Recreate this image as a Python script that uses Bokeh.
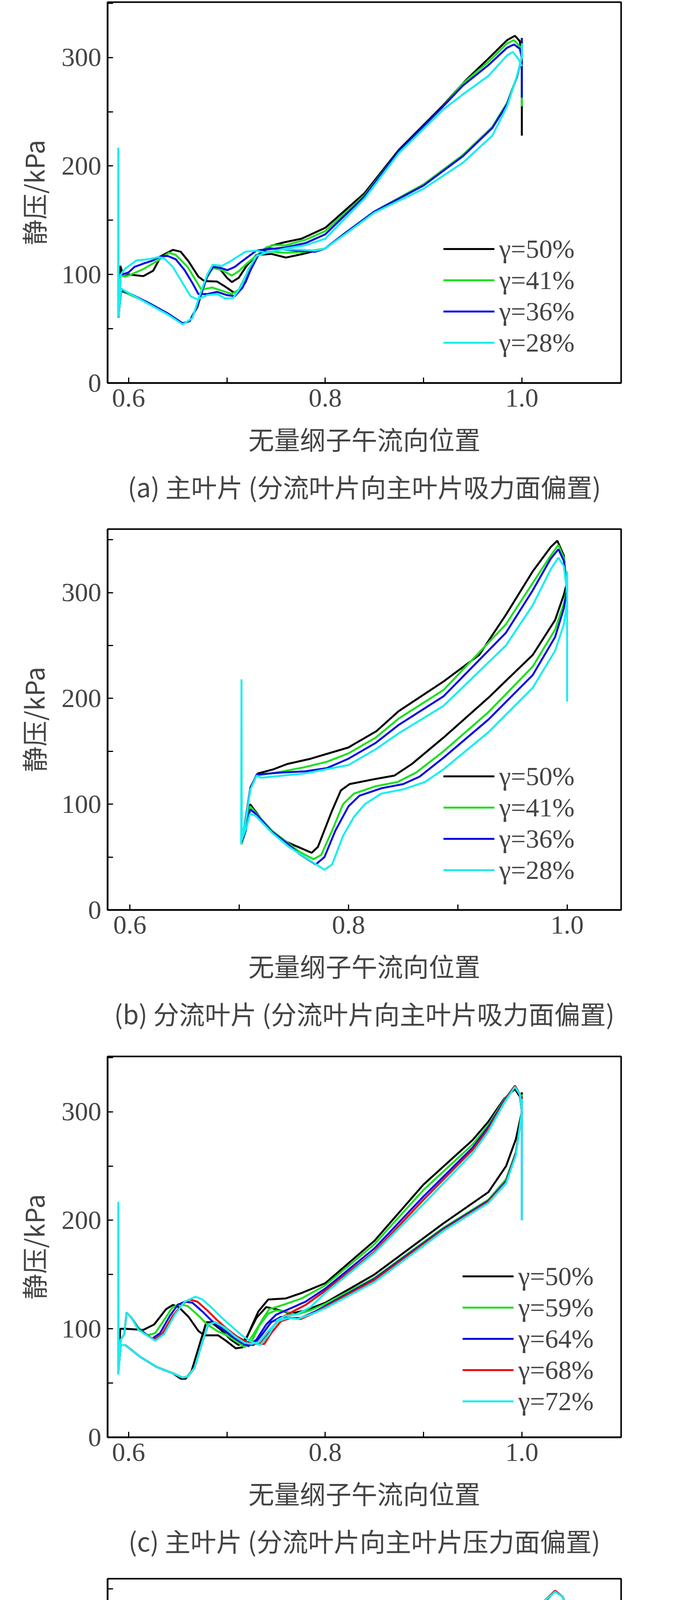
from bokeh.plotting import figure
from bokeh.layouts import column
from bokeh.models import FixedTicker, Legend, LegendItem
from bokeh.embed import file_html
from bokeh.resources import INLINE

XLABEL = "无量纲子午流向位置"
YLABEL = "静压/kPa"
CAPTIONS = ["(a) 主叶片 (分流叶片向主叶片吸力面偏置)",
            "(b) 分流叶片 (分流叶片向主叶片吸力面偏置)",
            "(c) 主叶片 (分流叶片向主叶片压力面偏置)",
            "(d) 分流叶片 (分流叶片向主叶片压力面偏置)"]
LABELS_SS = ["γ=50%", "γ=41%", "γ=36%", "γ=28%"]
LABELS_PS = ["γ=50%", "γ=59%", "γ=64%", "γ=68%", "γ=72%"]
X_TICKS = [0.6, 0.7, 0.8, 0.9, 1.0]
X_TICK_LABELS = {0.6: "0.6", 0.7: "", 0.8: "0.8", 0.9: "", 1.0: "1.0"}
Y_TICKS = [0, 50, 100, 150, 200, 250, 300, 350]
Y_TICK_LABELS = {0: "0", 50: "", 100: "100", 150: "", 200: "200", 250: "", 300: "300", 350: ""}

# ---------------- panel (a) ----------------
A50_1 = [(0.5895,60),(0.5915,108),(0.595,98),(0.6,100),(0.615,98.5),(0.625,103.5),(0.633,117),(0.645,122.7),(0.653,121),(0.661,112),(0.671,98),(0.677,94),(0.69,93.5),(0.698,89),(0.706,84),(0.711,83),(0.719,93),(0.728,113),(0.735,121),(0.745,126.5),(0.758,129.6),(0.776,133),(0.8,143),(0.84,175),(0.875,215),(0.92,256),(0.943,279),(0.966,299),(0.985,316),(0.993,320),(0.998,315),(1.0,300)]
A50_2 = [(0.5895,60),(0.5925,85),(0.6,82),(0.62,74),(0.64,64),(0.655,55),(0.662,57),(0.67,70),(0.675,85),(0.68,98),(0.686,107),(0.692,106),(0.7,97),(0.705,93),(0.712,97),(0.72,108),(0.73,118),(0.745,119),(0.76,115.6),(0.776,118.7),(0.8,124),(0.82,138),(0.85,158),(0.9,183),(0.94,210),(0.97,236),(0.985,258),(0.995,282),(1.0,300),(1.0,318),(1.0,228)]
A41_1 = [(0.5895,62),(0.592,100),(0.596,98),(0.6,99),(0.615,105),(0.63,113),(0.641,120),(0.648,118),(0.66,107),(0.668,95),(0.674,86),(0.685,88),(0.695,85),(0.705,82),(0.712,86),(0.722,104),(0.73,117),(0.74,125),(0.748,127),(0.76,127),(0.78,132),(0.8,140),(0.84,173),(0.875,214),(0.92,255),(0.94,276),(0.966,296),(0.985,313),(0.992,316),(0.998,310),(1.0,298)]
A41_2 = [(0.5895,60),(0.5925,86),(0.6,82),(0.62,74),(0.64,64),(0.655,55),(0.662,57),(0.67,71),(0.675,86),(0.68,99),(0.686,106),(0.695,104),(0.705,99),(0.712,103),(0.72,110),(0.735,121),(0.745,121),(0.76,120),(0.78,121),(0.8,124),(0.82,138),(0.85,158),(0.9,183),(0.94,210),(0.97,236),(0.985,258),(0.995,282),(1.0,300),(1.0,318),(1.0,255)]
A36_1 = [(0.5895,62),(0.592,100),(0.597,101),(0.6,102),(0.606,107),(0.615,110),(0.625,113),(0.633,117),(0.64,117),(0.648,114),(0.657,104),(0.665,92),(0.671,82),(0.68,82),(0.69,84),(0.7,81),(0.708,80),(0.716,88),(0.724,104),(0.732,118),(0.74,123),(0.76,125),(0.78,129),(0.8,137),(0.84,172),(0.875,214),(0.92,255),(0.94,274),(0.966,293),(0.985,309),(0.992,312),(0.998,308),(1.0,300)]
A36_2 = [(0.5895,60),(0.5925,86),(0.6,83),(0.62,74),(0.64,64),(0.655,55),(0.662,57),(0.67,71),(0.675,86),(0.68,99),(0.686,107),(0.694,106),(0.7005,104),(0.708,107),(0.715,112),(0.73,122),(0.745,124),(0.77,122),(0.79,121),(0.8,124),(0.82,138),(0.85,158),(0.9,182),(0.94,209),(0.97,235),(0.985,257),(0.995,282),(1.0,300),(1.0,318),(1.0,263)]
A28_1 = [(0.5895,62),(0.592,100),(0.596,105),(0.608,113),(0.62,114),(0.63,116),(0.636,115),(0.645,107),(0.655,92),(0.663,80),(0.670,77),(0.68,81),(0.69,82),(0.698,78),(0.706,78),(0.715,90),(0.722,105),(0.73,117),(0.74,120),(0.76,124),(0.78,127),(0.8,133),(0.84,170),(0.875,212),(0.92,252),(0.94,266),(0.966,283),(0.985,302),(0.991,305),(0.997,298),(1.0,292)]
A28_2 = [(0.5893,60),(0.5895,217),(0.5898,62),(0.5925,87),(0.6,83),(0.62,73),(0.64,63),(0.655,54),(0.665,60),(0.672,80),(0.68,100),(0.6855,109),(0.695,108),(0.705,113),(0.7187,121),(0.73,122),(0.74,120),(0.755,123),(0.77,123),(0.79,122),(0.8,124),(0.82,137),(0.85,157),(0.9,179),(0.94,203),(0.97,228),(0.985,255),(0.995,283),(1.0,300),(1.0,313)]

# ---------------- panel (b) ----------------
B50_1 = [(0.702,62),(0.705,80),(0.7103,116),(0.717,129),(0.7315,133),(0.744,138),(0.764,142.6),(0.8,153.6),(0.805,156.7),(0.8255,169),(0.846,188),(0.887,216),(0.9195,241),(0.944,279),(0.9685,320),(0.985,343),(0.991,349),(0.997,335),(1.0,300)]
B50_2 = [(0.702,62),(0.706,75),(0.71,100),(0.715,93),(0.7234,81.5),(0.7316,72),(0.744,64),(0.7663,54),(0.772,59.6),(0.785,94),(0.793,113),(0.801,119),(0.8255,124),(0.842,127),(0.858,138),(0.887,163),(0.928,200.6),(0.9685,241),(0.989,274),(0.997,298),(1.0,310)]
B41_1 = [(0.702,62),(0.705,80),(0.7103,115),(0.716,127),(0.74,131),(0.76,135),(0.78,140),(0.8,148),(0.825,163),(0.846,181),(0.887,208),(0.944,270),(0.9685,309),(0.985,335),(0.992,345),(0.997,333),(1.0,300)]
B41_2 = [(0.702,62),(0.706,75),(0.71,98),(0.715,92),(0.73,75),(0.745,63),(0.755,55),(0.768,48),(0.775,52),(0.785,75),(0.795,100),(0.805,110),(0.825,117),(0.845,121),(0.862,130),(0.887,150),(0.928,187),(0.9685,230),(0.989,265),(0.997,290),(1.0,305)]
B36_1 = [(0.702,64),(0.705,80),(0.7103,115),(0.716,128),(0.74,130),(0.76,131),(0.78,134),(0.8,143),(0.825,158),(0.846,175),(0.887,202),(0.944,262),(0.9685,302),(0.985,332),(0.992,341),(0.997,330),(1.0,300)]
B36_2 = [(0.702,64),(0.706,75),(0.71,95),(0.715,91),(0.73,74),(0.745,62),(0.755,53),(0.77,43),(0.778,50),(0.788,75),(0.8,98),(0.81,108),(0.83,115),(0.85,119),(0.865,126),(0.887,144),(0.928,180),(0.9685,222),(0.989,258),(0.997,285),(1.0,303)]
B28_1 = [(0.7018,62),(0.7021,218),(0.7024,66),(0.706,85),(0.7103,114),(0.716,127),(0.72,125),(0.74,127),(0.76,129),(0.78,133),(0.8,137),(0.825,152),(0.846,167),(0.887,193),(0.944,250),(0.9685,288),(0.985,322),(0.992,333),(0.997,325),(1.0,300)]
B28_2 = [(0.702,66),(0.706,76),(0.71,91),(0.715,89),(0.73,73),(0.745,60),(0.76,50),(0.778,38),(0.785,43),(0.795,70),(0.805,88),(0.815,100),(0.83,110),(0.85,114),(0.87,121),(0.887,133),(0.928,168),(0.9685,210),(0.989,245),(0.997,270),(1.0,290),(1.0,320),(1.0,197)]

# ---------------- panel (c) ----------------
C50_1 = [(0.5895,60),(0.5915,100),(0.597,100),(0.615,99),(0.626,104),(0.638,118),(0.645,122),(0.651,120),(0.661,111),(0.671,98),(0.677,94),(0.691,94),(0.699,89),(0.709,82),(0.716,83),(0.724,100),(0.732,116),(0.742,127),(0.76,128),(0.776,133),(0.8,142),(0.85,181),(0.9,233),(0.95,274),(0.966,291),(0.982,312),(0.993,321),(0.998,314),(1.0,300)]
C50_2 = [(0.5895,60),(0.592,85),(0.5966,85),(0.612,74),(0.628,65),(0.645,59),(0.653,54),(0.658,54),(0.664,61),(0.673,88),(0.679,106),(0.684,106),(0.694,99),(0.704,90),(0.712,85),(0.72,92),(0.73,110),(0.74,120),(0.75,118),(0.765,114),(0.78,117),(0.8,124),(0.85,150),(0.92,197),(0.966,226),(0.984,250),(0.994,275),(1.0,300),(1.0,318)]
C59_1 = [(0.5895,62),(0.592,90),(0.5955,95),(0.598,115),(0.603,110),(0.61,101),(0.619,94),(0.627,96),(0.636,108),(0.644,119),(0.651,123),(0.66,121),(0.67,113),(0.68,104),(0.69,98),(0.7,94),(0.71,88),(0.718,83),(0.727,95),(0.737,110),(0.743,118),(0.757,122),(0.776,128),(0.8,140),(0.85,178),(0.9,228),(0.95,270),(0.966,288),(0.982,311),(0.993,324),(0.998,316),(1.0,300)]
C59_2 = [(0.5895,60),(0.592,85),(0.5966,85),(0.612,74),(0.628,65),(0.645,59),(0.655,55),(0.66,56),(0.667,64),(0.675,88),(0.681,104),(0.687,106),(0.697,101),(0.707,93),(0.716,86),(0.725,88),(0.733,103),(0.742,114),(0.75,117),(0.76,116),(0.77,113),(0.785,117),(0.8,123),(0.85,147),(0.92,193),(0.966,219),(0.984,238),(0.994,263),(1.0,300),(1.0,316)]
C64_1 = [(0.5895,62),(0.592,90),(0.5955,95),(0.598,115),(0.603,110),(0.61,100),(0.624,91),(0.632,96),(0.642,112),(0.65,122),(0.657,125),(0.665,124),(0.675,116),(0.685,107),(0.695,100),(0.705,93),(0.715,87),(0.722,84),(0.73,90),(0.74,104),(0.75,113),(0.76,117),(0.78,125),(0.8,137),(0.85,174),(0.9,222),(0.95,267),(0.966,286),(0.982,310),(0.993,324),(0.998,316),(1.0,300)]
C64_2 = [(0.5895,60),(0.592,85),(0.5966,85),(0.612,74),(0.628,65),(0.645,59),(0.655,55),(0.66,56),(0.667,64),(0.675,88),(0.681,104),(0.688,106),(0.698,101),(0.708,93),(0.718,86),(0.727,85),(0.736,95),(0.745,106),(0.755,111),(0.765,110),(0.775,110),(0.79,116),(0.8,121),(0.85,146),(0.92,192),(0.966,218),(0.984,236),(0.994,262),(1.0,300),(1.0,314),(1.0,200)]
C68_1 = [(0.5895,62),(0.592,90),(0.5955,95),(0.598,115),(0.603,110),(0.61,99),(0.626,90),(0.634,95),(0.645,112),(0.655,123),(0.662,127),(0.67,125),(0.68,117),(0.69,108),(0.7,100),(0.71,93),(0.72,88),(0.728,86),(0.735,88),(0.745,100),(0.755,110),(0.765,115),(0.78,122),(0.8,135),(0.85,171),(0.9,219),(0.95,265),(0.966,284),(0.982,309),(0.993,324),(0.998,316),(1.0,300)]
C68_2 = [(0.5895,60),(0.592,85),(0.5966,85),(0.612,74),(0.628,65),(0.645,59),(0.655,55),(0.66,56),(0.667,64),(0.675,88),(0.681,104),(0.688,106),(0.698,101),(0.708,93),(0.718,87),(0.73,86),(0.738,86),(0.745,96),(0.755,107),(0.765,110),(0.775,109),(0.79,115),(0.8,120),(0.85,145),(0.92,191),(0.966,217),(0.984,235),(0.994,261),(1.0,300),(1.0,314)]
C72_1 = [(0.5893,58),(0.5895,217),(0.5898,62),(0.592,90),(0.5955,95),(0.598,115),(0.603,110),(0.61,99),(0.627,89),(0.636,95),(0.647,113),(0.657,125),(0.668,129.6),(0.675,127),(0.685,119),(0.695,110),(0.705,102),(0.715,94),(0.725,88),(0.734,85),(0.743,95),(0.751,108),(0.76,112),(0.77,113),(0.785,120),(0.8,133),(0.85,170),(0.9,215),(0.95,262),(0.966,282),(0.982,308),(0.993,323),(0.998,316),(1.0,300)]
C72_2 = [(0.5895,58),(0.592,85),(0.5966,85),(0.612,74),(0.628,65),(0.645,59),(0.655,55),(0.66,56),(0.667,64),(0.675,88),(0.681,104),(0.688,106),(0.698,101),(0.708,93),(0.718,87),(0.725,86),(0.733,88),(0.742,98),(0.752,107),(0.762,110),(0.772,109),(0.79,115),(0.8,119),(0.85,143),(0.92,190),(0.966,216),(0.984,234),(0.994,260),(1.0,300),(1.0,312),(1.0,200)]

# ---------------- panel (d) ----------------
D50_1 = [(0.702,62),(0.7025,194),(0.703,70),(0.712,125),(0.72,129),(0.74,135),(0.764,141.5),(0.8,153),(0.846,184),(0.887,226),(0.928,269),(0.9685,325),(0.989,347.6),(0.996,342),(1.0,328)]
D50_2 = [(0.702,62),(0.704,70),(0.709,103),(0.72,90),(0.73,78),(0.7397,66),(0.764,55),(0.77,57),(0.778,75),(0.786,100),(0.795,117),(0.805,120),(0.82,122),(0.838,127),(0.85,135),(0.87,150),(0.9,173),(0.93,197),(0.96,225),(0.98,247),(0.995,278),(1.0,300),(1.0,215)]
D59_1 = [(0.702,64),(0.7025,186),(0.703,70),(0.712,126),(0.72,130),(0.74,138),(0.764,145),(0.8,158),(0.846,187),(0.887,230),(0.928,273),(0.9685,326),(0.989,348),(0.996,342),(1.0,330)]
D59_2 = [(0.702,64),(0.704,72),(0.707,108),(0.72,97),(0.74,80),(0.76,60),(0.765,59),(0.772,64),(0.78,82),(0.79,108),(0.8,119),(0.82,122),(0.835,128),(0.85,137),(0.87,152),(0.9,175),(0.93,200),(0.96,228),(0.98,250),(0.995,283),(1.0,305),(1.0,233)]
D64_1 = [(0.702,66),(0.7025,180),(0.703,72),(0.712,126),(0.72,131),(0.74,140),(0.764,147),(0.8,161),(0.846,189),(0.887,234),(0.928,277),(0.9685,327),(0.989,348),(0.996,342),(1.0,331)]
D64_2 = [(0.702,66),(0.704,74),(0.707,112),(0.72,102),(0.74,85),(0.76,64),(0.765,62),(0.772,67),(0.78,86),(0.79,110),(0.8,120),(0.82,123),(0.835,131),(0.85,140),(0.87,155),(0.9,178),(0.93,204),(0.96,232),(0.98,255),(0.995,288),(1.0,308),(1.0,245)]
D68_1 = [(0.702,68),(0.7025,178),(0.703,74),(0.712,126),(0.72,131),(0.74,141),(0.764,148),(0.8,162),(0.846,190),(0.887,236),(0.928,279),(0.9685,327),(0.989,348),(0.996,342),(1.0,331)]
D68_2 = [(0.702,68),(0.704,76),(0.707,114),(0.72,104),(0.74,86),(0.76,65),(0.765,63),(0.772,68),(0.78,87),(0.79,111),(0.8,121),(0.82,123),(0.835,131),(0.85,140),(0.87,156),(0.9,178),(0.93,204),(0.96,232),(0.98,256),(0.995,289),(1.0,309),(1.0,258)]
D72_1 = [(0.702,60),(0.7025,176),(0.703,72),(0.712,126),(0.72,131),(0.74,141),(0.76,148),(0.8,163),(0.846,190),(0.887,238),(0.928,281),(0.9685,328),(0.989,347),(0.996,342),(1.0,330)]
D72_2 = [(0.702,60),(0.704,62),(0.707,115),(0.72,106),(0.74,88),(0.756,69),(0.762,66),(0.77,72),(0.778,90),(0.788,112),(0.795,120),(0.81,123),(0.82,124),(0.835,132),(0.85,141),(0.87,156),(0.9,179),(0.93,205),(0.96,233),(0.98,257),(0.995,290),(1.0,310),(1.0,300)]

COLORS5 = ["#000000", "#1ee01e", "#0a0ae6", "#ee0a0a", "#18eeee"]
COLORS4 = ["#000000", "#1ee01e", "#0a0ae6", "#18eeee"]

PANELS = [
    dict(series=[(A50_1, A50_2), (A41_1, A41_2), (A36_1, A36_2), (A28_1, A28_2)],
         labels=LABELS_SS, colors=COLORS4, xr=(0.5786, 1.101), yr=(0, 351),
         height=1324, top=5, leg=(860, 63)),
    dict(series=[(B50_1, B50_2), (B41_1, B41_2), (B36_1, B36_2), (B28_1, B28_2)],
         labels=LABELS_SS, colors=COLORS4, xr=(0.5796, 1.0494), yr=(0, 360),
         height=1350, top=30, leg=(860, 62)),
    dict(series=[(C50_1, C50_2), (C59_1, C59_2), (C64_1, C64_2), (C68_1, C68_2), (C72_1, C72_2)],
         labels=LABELS_PS, colors=COLORS5, xr=(0.5786, 1.101), yr=(0, 351),
         height=1337, top=30, leg=(909, 52)),
    dict(series=[(D50_1, D50_2), (D59_1, D59_2), (D64_1, D64_2), (D68_1, D68_2), (D72_1, D72_2)],
         labels=LABELS_PS, colors=COLORS5, xr=(0.5796, 1.0494), yr=(0, 360),
         height=1290, top=30, leg=(909, 40)),
]

SERIF = "Liberation Serif"
CJK = "Noto Sans CJK SC"

figs = []
for i, pd in enumerate(PANELS):
    frame_h = 975
    p = figure(width=1756, height=pd["height"], x_range=pd["xr"], y_range=pd["yr"],
               output_backend="svg", toolbar_location=None,
               min_border_left=275, min_border_right=166,
               min_border_top=pd["top"], min_border_bottom=pd["height"] - pd["top"] - frame_h,
               title=CAPTIONS[i], title_location="below")
    p.title.text_font = CJK
    p.title.text_font_size = "66px"
    p.title.text_font_style = "normal"
    p.title.align = "center"
    p.title.standoff = 42
    p.title.offset = -10
    p.grid.visible = False
    p.outline_line_color = "black"
    p.outline_line_width = 4
    p.background_fill_color = "white"
    p.xaxis.ticker = FixedTicker(ticks=X_TICKS)
    p.xaxis.major_label_overrides = X_TICK_LABELS
    p.yaxis.ticker = FixedTicker(ticks=Y_TICKS)
    p.yaxis.major_label_overrides = Y_TICK_LABELS
    for ax in (p.xaxis[0], p.yaxis[0]):
        ax.axis_line_width = 4
        ax.major_tick_in = 14
        ax.major_tick_out = 0
        ax.major_tick_line_width = 3
        ax.minor_tick_line_color = None
        ax.major_label_text_font = SERIF
        ax.major_label_text_font_size = "68px"
        ax.axis_label_text_font = CJK
        ax.axis_label_text_font_size = "66px"
        ax.axis_label_text_font_style = "normal"
        ax.major_label_standoff = 16
    p.xaxis.axis_label = XLABEL
    p.xaxis.axis_label_standoff = 30
    p.yaxis.axis_label = YLABEL
    p.yaxis.axis_label_standoff = 22

    items = []
    for (s1, s2), lab, col in zip(pd["series"], pd["labels"], pd["colors"]):
        r1 = p.line([a for a, b in s1], [b for a, b in s1], line_color=col, line_width=5)
        r2 = p.line([a for a, b in s2], [b for a, b in s2], line_color=col, line_width=5)
        items.append(LegendItem(label=lab, renderers=[r1]))
    leg = Legend(items=items, location=pd["leg"], border_line_color=None,
                 background_fill_alpha=0, padding=0, margin=0, spacing=0,
                 glyph_width=131, glyph_height=80, label_height=80,
                 label_standoff=12, label_text_font=SERIF, label_text_font_size="68px")
    p.add_layout(leg, "center")
    figs.append(p)

layout = column(*figs, spacing=0)
open("out.html", "w").write(file_html(layout, INLINE))
